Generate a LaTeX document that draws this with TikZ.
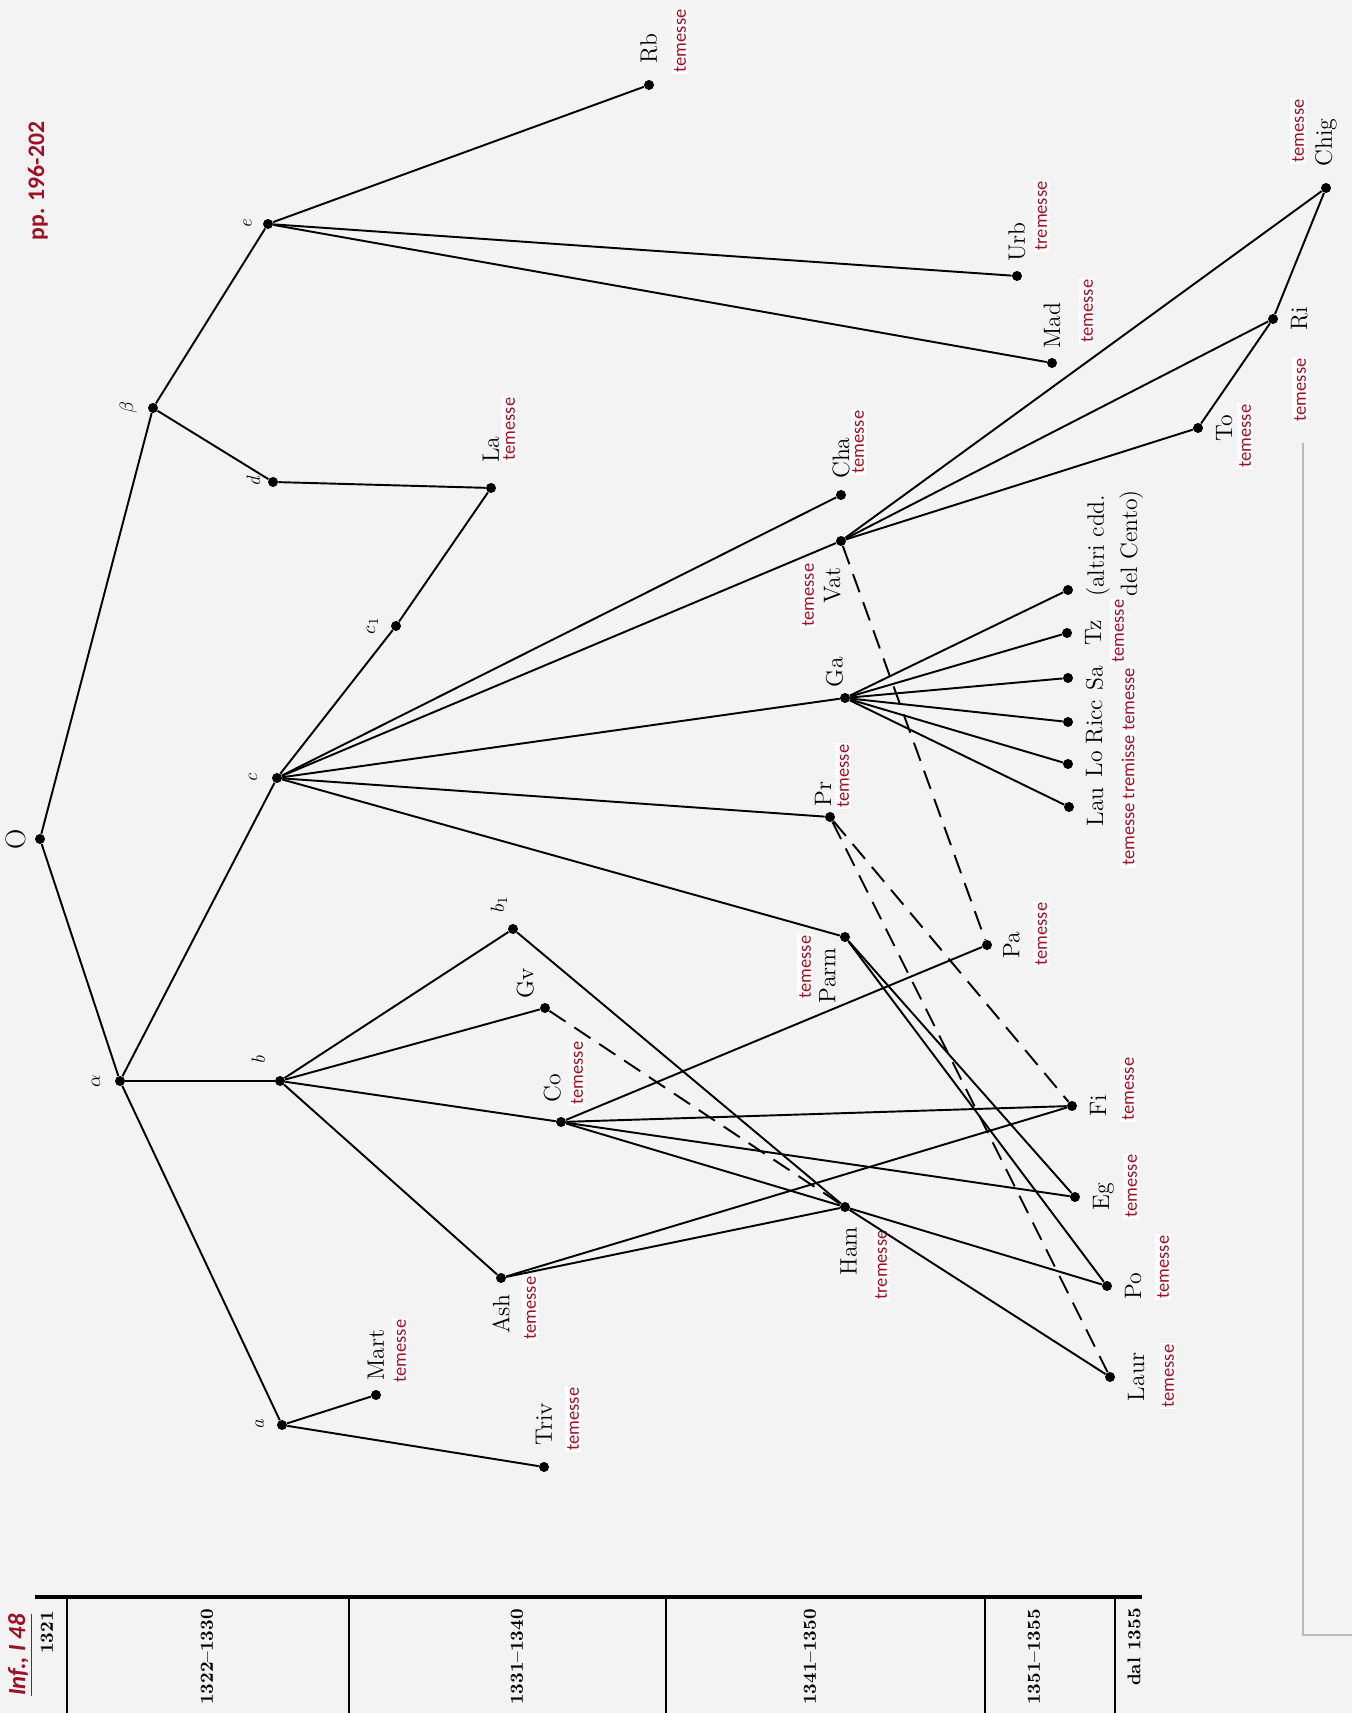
\documentclass[tikz,border=0pt]{standalone}
\usepackage{fontspec}
\newfontfamily\notefont{Carlito}
\usepackage{tikz}
\usetikzlibrary{positioning}
\definecolor{noteRed}{RGB}{160,15,35}
\definecolor{paper}{RGB}{243,243,243}

\begin{document}
\begin{tikzpicture}[x=0.02cm,y=0.02cm,rotate=90,transform shape,
    wit/.style={circle,fill=black,inner sep=0pt,minimum size=0.2cm},
    ms/.style={font=\fontsize{13.5}{19}\selectfont,inner sep=1pt},
    sig/.style={font=\itshape\fontsize{11}{13}\selectfont,inner sep=1pt},
    note/.style={text=noteRed,fill=white,inner sep=1pt,
                 font=\notefont\fontsize{10.5}{12}\selectfont},
    stem/.style={line width=1.1pt},
    contam/.style={line width=1.1pt,dash pattern=on 11pt off 6pt},
    year/.style={anchor=east,inner sep=0pt,font=\bfseries\fontsize{10.5}{12}\selectfont}]
  \fill[paper] (0,-1352) rectangle (1713,0);
  \useasboundingbox (0,-1352) rectangle (1713,0);

  % time scale
  \draw[line width=2.4pt] (116,-35) -- (116,-1142);
  \foreach \y in {-67,-349,-666,-985,-1115}
    \draw[line width=0.9pt] (116,\y) -- (0,\y);
  \node[year] (y1) at (102,-47) {1321};
  \node[year] (y2) at (104,-207) {1322--1330};
  \node[year] (y3) at (104,-517) {1331--1340};
  \node[year] (y4) at (104,-810) {1341--1350};
  \node[year] (y5) at (104,-1034) {1351--1355};
  \node[year] (y6) at (105,-1134) {dal 1355};
  \draw[gray!55,line width=0.6pt] (1270,-1303) -- (78,-1303) -- (78,-1352);

  \node[note,fill=none,font=\notefont\bfseries\itshape\fontsize{14}{16}\selectfont] (ref) at (58,-20) {\underline{Inf., I 48}};
  \node[note,fill=none,font=\notefont\bfseries\fontsize{13.5}{16}\selectfont] (pages) at (1532,-38) {pp. 196-202};

  % lost exemplars
  \node[wit] (O) at (874,-40) {};
  \node[wit] (alpha) at (632,-120) {};
  \node[wit] (beta) at (1305,-153) {};
  \node[wit] (a) at (288,-282) {};
  \node[wit] (b) at (632,-280) {};
  \node[wit] (c) at (935,-277) {};
  \node[wit] (d) at (1231,-273) {};
  \node[wit] (e) at (1489,-268) {};
  \node[wit] (cone) at (1087,-396) {};
  \node[wit] (bone) at (784,-513) {};
  \node[ms,above=4pt of O,font=\fontsize{16}{18}\selectfont] (O-l) {O};
  \node[sig,above=7pt of alpha] (alpha-l) {$\alpha$};
  \node[sig,above=5pt of beta] (beta-l) {$\beta$};
  \node[sig,above=6pt of a] (a-l) {a};
  \node[sig,above right=5pt and 6pt of b] (b-l) {b};
  \node[sig,above=7pt of c] (c-l) {c};
  \node[sig,above=3pt of d] (d-l) {d};
  \node[sig,above=5pt of e] (e-l) {e};
  \node[sig,above=6pt of cone] (cone-l) {$c_1$};
  \node[sig,above right=0pt and 6pt of bone] (bone-l) {$b_1$};

  % manuscripts
  \node[wit] (Mart) at (318,-376) {};
  \node[wit] (Triv) at (246,-544) {};
  \node[wit] (Ash) at (435,-501) {};
  \node[wit] (Co) at (591,-561) {};
  \node[wit] (Gv) at (705,-545) {};
  \node[wit] (La) at (1225,-491) {};
  \node[wit] (Rb) at (1628,-649) {};
  \node[wit] (Urb) at (1437,-1017) {};
  \node[wit] (Mad) at (1350,-1052) {};
  \node[wit] (Cha) at (1218,-841) {};
  \node[wit] (Vat) at (1172,-841) {};
  \node[wit] (Ga) at (1015,-845) {};
  \node[wit] (Pr) at (896,-830) {};
  \node[wit] (Parm) at (776,-845) {};
  \node[wit] (Pa) at (768,-987) {};
  \node[wit] (Ham) at (506,-845) {};
  \node[wit] (Fi) at (607,-1072) {};
  \node[wit] (Eg) at (516,-1075) {};
  \node[wit] (Po) at (427,-1107) {};
  \node[wit] (Laur) at (336,-1110) {};
  \node[wit] (Lau) at (906,-1069) {};
  \node[wit] (Lo) at (949,-1068) {};
  \node[wit] (Ricc) at (991,-1068) {};
  \node[wit] (Sa) at (1035,-1068) {};
  \node[wit] (Tz) at (1080,-1067) {};
  \node[wit] (altri) at (1123,-1068) {};
  \node[wit] (To) at (1285,-1198) {};
  \node[wit] (Ri) at (1394,-1273) {};
  \node[wit] (Chig) at (1525,-1326) {};

  \node[ms,right=4pt of Mart] (Mart-l) {Mart};
  \node[ms,right=8pt of Triv] (Triv-l) {Triv};
  \node[ms,left=5pt of Ash] (Ash-l) {Ash};
  \node[ms,right=7pt of Co,yshift=5pt] (Co-l) {Co};
  \node[ms,above right=3pt and 2pt of Gv] (Gv-l) {Gv};
  \node[ms,right=10pt of La] (La-l) {La};
  \node[ms,right=8pt of Rb] (Rb-l) {Rb};
  \node[ms,right=4pt of Urb] (Urb-l) {Urb};
  \node[ms,right=4pt of Mad] (Mad-l) {Mad};
  \node[ms,right=5pt of Cha] (Cha-l) {Cha};
  \node[ms,left=11pt of Vat,yshift=5pt] (Vat-l) {Vat};
  \node[ms,right=2pt of Ga,yshift=6pt] (Ga-l) {Ga};
  \node[ms,right=2pt of Pr,yshift=4pt] (Pr-l) {Pr};
  \node[ms,left=2pt of Parm,yshift=10pt] (Parm-l) {Parm};
  \node[ms,below=5pt of Pa] (Pa-l) {Pa};
  \node[ms,left=7pt of Ham,yshift=-2pt] (Ham-l) {Ham};
  \node[ms,below=6pt of Fi] (Fi-l) {Fi};
  \node[ms,below=6pt of Eg] (Eg-l) {Eg};
  \node[ms,below=6pt of Po] (Po-l) {Po};
  \node[ms,below=6pt of Laur] (Laur-l) {Laur};
  \node[ms,below=6pt of Lau] (Lau-l) {Lau};
  \node[ms,below=6pt of Lo] (Lo-l) {Lo};
  \node[ms,below=6pt of Ricc] (Ricc-l) {Ricc};
  \node[ms,below=6pt of Sa] (Sa-l) {Sa};
  \node[ms,below=6pt of Tz] (Tz-l) {Tz};
  \node[ms,align=left,anchor=north west] (altri-l) at ([xshift=-5pt,yshift=-6pt]altri.south) {(altri cdd.\\del Cento)};
  \node[ms,below=6pt of To] (To-l) {To};
  \node[ms,below=6pt of Ri] (Ri-l) {Ri};
  \node[ms,right=8pt of Chig] (Chig-l) {Chig};

  % red notes
  \node[note] (Rb-n) at (1672,-680) {temesse};
  \node[note] (Urb-n) at (1497,-1041) {tremesse};
  \node[note] (Mad-n) at (1402,-1087) {temesse};
  \node[note] (La-n) at (1284,-509) {temesse};
  \node[note] (Cha-n) at (1271,-858) {temesse};
  \node[note] (Vat-n) at (1118,-808) {temesse};
  \node[note] (Pr-n) at (937,-843) {temesse};
  \node[note] (Parm-n) at (746,-805) {temesse};
  \node[note] (Pa-n) at (779,-1041) {temesse};
  \node[note] (Co-n) at (640,-577) {temesse};
  \node[note] (Ash-n) at (405,-530) {temesse};
  \node[note] (Ham-n) at (448,-881) {tremesse};
  \node[note] (Mart-n) at (362,-400) {temesse};
  \node[note] (Triv-n) at (294,-573) {temesse};
  \node[note] (Fi-n) at (624,-1128) {temesse};
  \node[note] (Eg-n) at (527,-1131) {temesse};
  \node[note] (Po-n) at (446,-1163) {temesse};
  \node[note] (Laur-n) at (337,-1168) {temesse};
  \node[note] (Lau-n) at (946,-1128) {temesse tremisse temesse};
  \node[note] (Tz-n) at (1082,-1118) {temesse};
  \node[note] (To-n) at (1277,-1245) {temesse};
  \node[note] (Ri-n) at (1323,-1300) {temesse};
  \node[note] (Chig-n) at (1582,-1298) {temesse};

  % filiation
  \draw[stem] (O) -- (alpha);
  \draw[stem] (O) -- (beta);
  \draw[stem] (alpha) -- (a);
  \draw[stem] (alpha) -- (b);
  \draw[stem] (alpha) -- (c);
  \draw[stem] (beta) -- (d);
  \draw[stem] (beta) -- (e);
  \draw[stem] (e) -- (Rb);
  \draw[stem] (e) -- (Urb);
  \draw[stem] (e) -- (Mad);
  \draw[stem] (d) -- (La);
  \draw[stem] (La) -- (cone);
  \draw[stem] (cone) -- (c);
  \draw[stem] (a) -- (Mart);
  \draw[stem] (a) -- (Triv);
  \draw[stem] (b) -- (bone);
  \draw[stem] (b) -- (Gv);
  \draw[stem] (b) -- (Co);
  \draw[stem] (b) -- (Ash);
  \draw[stem] (c) -- (Cha);
  \draw[stem] (c) -- (Vat);
  \draw[stem] (c) -- (Ga);
  \draw[stem] (c) -- (Pr);
  \draw[stem] (c) -- (Parm);
  \draw[stem] (Vat) -- (Chig);
  \draw[stem] (Vat) -- (Ri);
  \draw[stem] (Vat) -- (To);
  \draw[stem] (Ri) -- (Chig);
  \draw[stem] (To) -- (Ri);
  \draw[stem] (Ga) -- (Lau);
  \draw[stem] (Ga) -- (Lo);
  \draw[stem] (Ga) -- (Ricc);
  \draw[stem] (Ga) -- (Sa);
  \draw[stem] (Ga) -- (Tz);
  \draw[stem] (Ga) -- (altri);
  \draw[stem] (Co) -- (Pa);
  \draw[stem] (Co) -- (Fi);
  \draw[stem] (Co) -- (Eg);
  \draw[stem] (Co) -- (Ham);
  \draw[stem] (Ham) -- (Po);
  \draw[stem] (bone) -- (Ham);
  \draw[stem] (Ham) -- (Laur);
  \draw[stem] (Ash) -- (Ham);
  \draw[stem] (Ash) -- (Fi);
  \draw[stem] (Parm) -- (Eg);
  \draw[stem] (Parm) -- (Po);
  % contamination
  \draw[contam] (Vat) -- (Pa);
  \draw[contam] (Pr) -- (Fi);
  \draw[contam] (Pr) -- (Laur);
  \draw[contam] (Gv) -- (Ham);
\end{tikzpicture}
\end{document}
